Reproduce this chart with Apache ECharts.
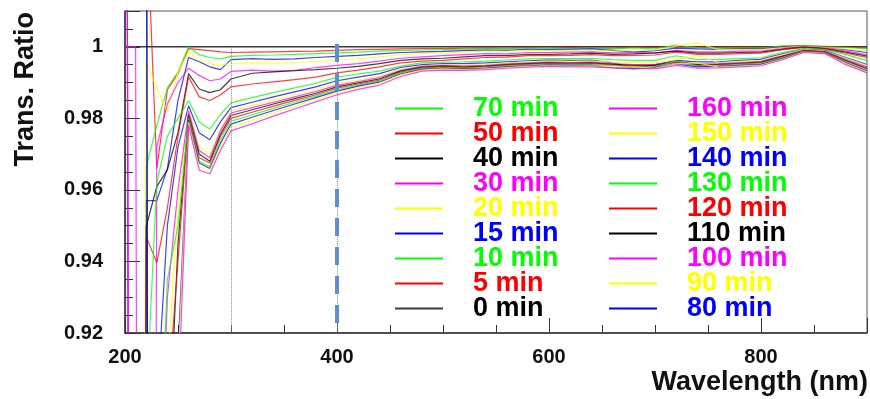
<!DOCTYPE html>
<html>
<head>
<meta charset="utf-8">
<script src="https://cdn.jsdelivr.net/npm/echarts@6/dist/echarts.min.js"></script>
<style>
  html, body { margin: 0; padding: 0; background: #fff; }
  #chart { width: 870px; height: 399px; }
</style>
</head>
<body>
<div id="chart"></div>
<script>
// wavelength grid (nm), shared by all runs
const wavelengths = [200, 210, 220, 230, 240, 250, 260, 270, 280, 290,
  300, 320, 340, 360, 380, 400, 420, 440, 460, 480,
  500, 520, 540, 560, 580, 600, 620, 640, 660, 680, 700, 720, 740, 760, 780, 800, 820, 840, 860, 880, 900];

// transmission ratio per run (relative to 0 min); values far off-scale below 250 nm
const t0 = [1, 1, 1, 1, 1, 1, 1, 1, 1, 1, 1, 1, 1, 1, 1, 1, 1, 1, 1, 1,
  1, 1, 1, 1, 1, 1, 1, 1, 1, 1, 1, 1, 1, 1, 1, 1, 1, 1, 1, 1, 1];
const t5 = [1.2, 1.2, 1.04, 0.966, 0.988, 0.9925, 0.9995, 0.9992, 0.9989, 0.9986,
  0.9984, 0.9985, 0.9986, 0.9987, 0.9988, 0.9990, 0.9992, 0.9993, 0.9994, 0.9995,
  0.9995, 0.9996, 0.9997, 0.9996, 0.9998, 0.9997, 0.9998, 0.9997, 0.9996, 0.9999, 0.9998, 1.0001, 0.9999, 0.9998, 0.9999, 0.9998, 1.0002, 1.0003, 1.0001, 0.9999, 0.9997];
const t10 = [0, 0, 0.9664, 0.978, 0.9885, 0.993, 1.0, 0.9978, 0.997, 0.9966,
  0.9973, 0.9976, 0.9977, 0.9979, 0.9981, 0.9983, 0.9985, 0.9988, 0.9990, 0.9991,
  0.9992, 0.9993, 0.9995, 0.9994, 0.9996, 0.9996, 0.9995, 0.9996, 0.9994, 0.9997, 0.9994, 1.0005, 0.9997, 0.9996, 0.9997, 0.9996, 1.0001, 1.0004, 1.0000, 0.9998, 0.9995];
const t15 = [0, 0, 0.957, 0.957, 0.966, 0.985, 0.997, 0.9958, 0.9944, 0.9936,
  0.9964, 0.9967, 0.9965, 0.9966, 0.9970, 0.9973, 0.9976, 0.9980, 0.9984, 0.9986,
  0.9987, 0.9989, 0.9991, 0.9990, 0.9993, 0.9992, 0.9993, 0.9994, 0.9990, 0.9985, 0.9989, 0.9996, 0.9994, 0.9993, 0.9995, 0.9994, 0.9999, 1.0002, 0.9998, 0.9992, 0.9984];
const t20 = [0, 0, 0.9955, 0.9885, 0.982, 0.993, 0.9985, 0.9962, 0.9952, 0.9948,
  0.9954, 0.9955, 0.9954, 0.9956, 0.9959, 0.9963, 0.9967, 0.9972, 0.9978, 0.9981,
  0.9983, 0.9985, 0.9987, 0.9987, 0.9990, 0.9989, 0.9990, 0.9991, 0.9988, 0.9990, 0.9991, 1.0002, 1.0010, 0.9992, 0.9993, 0.9992, 0.9998, 1.0002, 0.9998, 0.9994, 0.9988];
const t30 = [1.0, 1.0, 0, 0.972, 0.984, 0.990, 0.994, 0.992, 0.9905, 0.991,
  0.9931, 0.9935, 0.9932, 0.9934, 0.9942, 0.9948, 0.9953, 0.9960, 0.9968, 0.9972,
  0.9975, 0.9978, 0.9981, 0.9980, 0.9984, 0.9984, 0.9985, 0.9986, 0.9983, 0.9984, 0.9982, 0.9990, 0.9986, 0.9986, 0.9988, 0.9988, 0.9995, 1.0000, 0.9996, 0.9988, 0.9978];
const t40 = [0, 0, 0.9497, 0.961, 0.9656, 0.976, 0.9925, 0.9882, 0.9872, 0.988,
  0.9910, 0.9926, 0.9930, 0.9933, 0.9936, 0.9940, 0.9945, 0.9953, 0.9962, 0.9966,
  0.9968, 0.9972, 0.9975, 0.9975, 0.9979, 0.9979, 0.9980, 0.9982, 0.9979, 0.9980, 0.9983, 0.9988, 0.9982, 0.9982, 0.9984, 0.9985, 0.9993, 0.9999, 0.9995, 0.9985, 0.9974];
const t50 = [0, 0, 0.947, 0.9396, 0.955, 0.975, 0.9916, 0.986, 0.985, 0.9865,
  0.9888, 0.9896, 0.9902, 0.9908, 0.9915, 0.9927, 0.9935, 0.9944, 0.9955, 0.9960,
  0.9962, 0.9966, 0.9970, 0.9971, 0.9975, 0.9975, 0.9976, 0.9978, 0.9975, 0.9976, 0.9977, 0.9985, 0.9979, 0.9979, 0.9981, 0.9982, 0.9992, 0.9998, 0.9994, 0.9982, 0.9970];
const t70 = [0.5, 0.5, 0.90, 0.962, 0.975, 0.980, 0.985, 0.979, 0.977, 0.981,
  0.9843, 0.9858, 0.9872, 0.9885, 0.9898, 0.9915, 0.9924, 0.9932, 0.9946, 0.9955,
  0.9957, 0.9958, 0.9960, 0.9963, 0.9966, 0.9967, 0.9967, 0.9968, 0.9964, 0.9962, 0.9962, 0.9975, 0.9964, 0.9965, 0.9967, 0.9969, 0.9984, 0.9995, 0.9992, 0.9978, 0.9962];
const t80 = [1.3, 0, 0.5, 0.90, 0.95, 0.972, 0.9835, 0.976, 0.974, 0.979,
  0.9830, 0.9845, 0.9860, 0.9874, 0.9888, 0.9905, 0.9915, 0.9925, 0.9942, 0.9950,
  0.9953, 0.9953, 0.9955, 0.9958, 0.9961, 0.9963, 0.9962, 0.9963, 0.9955, 0.9940, 0.9950, 0.9962, 0.9958, 0.9958, 0.9962, 0.9965, 0.9980, 0.9993, 0.9990, 0.9970, 0.9950];
const t90 = [0.5, 0.5, 0.6, 0.80, 0.91, 0.955, 0.9825, 0.972, 0.970, 0.977,
  0.9822, 0.9836, 0.9851, 0.9866, 0.9880, 0.9897, 0.9907, 0.9918, 0.9937, 0.9947,
  0.9950, 0.9950, 0.9951, 0.9955, 0.9958, 0.9960, 0.9959, 0.9960, 0.9957, 0.9956, 0.9955, 0.9964, 0.9975, 0.9956, 0.9959, 0.9962, 0.9978, 0.9992, 0.9989, 0.9968, 0.9948];
const t100 = [1.3, 0, 0.5, 0.85, 0.93, 0.96, 0.982, 0.971, 0.969, 0.9765,
  0.9815, 0.9830, 0.9845, 0.9860, 0.9875, 0.9892, 0.9903, 0.9914, 0.9934, 0.9945,
  0.9948, 0.9947, 0.9948, 0.9952, 0.9955, 0.9957, 0.9956, 0.9957, 0.9953, 0.9950, 0.9950, 0.9960, 0.9952, 0.9953, 0.9956, 0.9959, 0.9975, 0.9990, 0.9987, 0.9965, 0.9944];
const t110 = [1.1, 1.1, 1.1, -0.5, 0.88, 0.945, 0.981, 0.970, 0.968, 0.9755,
  0.9808, 0.9824, 0.9840, 0.9855, 0.9870, 0.9888, 0.9899, 0.9910, 0.9932, 0.9943,
  0.9946, 0.9944, 0.9946, 0.9950, 0.9953, 0.9955, 0.9954, 0.9955, 0.9951, 0.9948, 0.9948, 0.9958, 0.9950, 0.9951, 0.9954, 0.9957, 0.9973, 0.9989, 0.9986, 0.9962, 0.9940];
const t120 = [0.5, 0.5, 0.6, 0.80, 0.90, 0.94, 0.9805, 0.969, 0.9675, 0.975,
  0.9800, 0.9817, 0.9834, 0.9850, 0.9866, 0.9884, 0.9896, 0.9907, 0.9929, 0.9941,
  0.9944, 0.9942, 0.9944, 0.9948, 0.9951, 0.9953, 0.9952, 0.9953, 0.9949, 0.9946, 0.9946, 0.9956, 0.9948, 0.9949, 0.9952, 0.9955, 0.9971, 0.9988, 0.9985, 0.9960, 0.9938];
const t130 = [0.5, 0.5, 0.6, 0.86, 0.935, 0.95, 0.980, 0.968, 0.9665, 0.974,
  0.9792, 0.9810, 0.9828, 0.9845, 0.9862, 0.9880, 0.9893, 0.9904, 0.9927, 0.9939,
  0.9942, 0.9940, 0.9942, 0.9946, 0.9949, 0.9951, 0.9950, 0.9951, 0.9947, 0.9944, 0.9944, 0.9960, 0.9946, 0.9947, 0.9950, 0.9953, 0.9969, 0.9987, 0.9984, 0.9958, 0.9935];
const t140 = [1.1, 1.1, 1.1, -0.5, 0.85, 0.915, 0.9795, 0.9675, 0.966, 0.973,
  0.9784, 0.9803, 0.9822, 0.9840, 0.9858, 0.9876, 0.9890, 0.9901, 0.9924, 0.9937,
  0.9940, 0.9938, 0.9940, 0.9944, 0.9947, 0.9949, 0.9948, 0.9948, 0.9942, 0.9938, 0.9942, 0.9952, 0.9944, 0.9945, 0.9948, 0.9951, 0.9967, 0.9986, 0.9983, 0.9955, 0.9932];
const t150 = [0.5, 0.5, 0.6, 0.70, 0.86, 0.91, 0.979, 0.9665, 0.9655, 0.972,
  0.9775, 0.9795, 0.9815, 0.9834, 0.9853, 0.9872, 0.9886, 0.9898, 0.9921, 0.9935,
  0.9938, 0.9936, 0.9938, 0.9942, 0.9945, 0.9947, 0.9946, 0.9947, 0.9944, 0.9943, 0.9940, 0.9952, 0.9955, 0.9943, 0.9946, 0.9949, 0.9965, 0.9985, 0.9982, 0.9953, 0.9930];
const t160 = [1.3, 0, 0.5, 0.75, 0.85, 0.90, 0.978, 0.9655, 0.9645, 0.971,
  0.9765, 0.9785, 0.9806, 0.9826, 0.9846, 0.9866, 0.9881, 0.9893, 0.9917, 0.9932,
  0.9935, 0.9934, 0.9936, 0.9940, 0.9943, 0.9945, 0.9944, 0.9944, 0.9941, 0.9940, 0.9938, 0.9948, 0.9940, 0.9941, 0.9944, 0.9947, 0.9963, 0.9984, 0.9981, 0.9950, 0.9927];

// legend columns, top to bottom
const legendLeft = ['70 min', '50 min', '40 min', '30 min', '20 min', '15 min', '10 min', '5 min', '0 min'];
const legendRight = ['160 min', '150 min', '140 min', '130 min', '120 min', '110 min', '100 min', '90 min', '80 min'];

// axis ticks
const xTicks = [200, 400, 600, 800];
const xTickLabels = ['200', '400', '600', '800'];
const yTicks = [0.92, 0.94, 0.96, 0.98, 1.0];
const yTickLabels = ['0.92', '0.94', '0.96', '0.98', '1'];

// reference lines (nm)
const dottedGuides = [300, 400];
const dashedGuide = 400;

const BLACK = '#000000', RED = '#ff0000', GREEN = '#00ff00', BLUE = '#0000ff', YELLOW = '#ffff00', MAGENTA = '#ff00ff';

const runs = [
  { name: '0 min', color: BLACK, values: t0 },
  { name: '5 min', color: RED, values: t5 },
  { name: '10 min', color: GREEN, values: t10 },
  { name: '15 min', color: BLUE, values: t15 },
  { name: '20 min', color: YELLOW, values: t20 },
  { name: '30 min', color: MAGENTA, values: t30 },
  { name: '40 min', color: BLACK, values: t40 },
  { name: '50 min', color: RED, values: t50 },
  { name: '70 min', color: GREEN, values: t70 },
  { name: '80 min', color: BLUE, values: t80 },
  { name: '90 min', color: YELLOW, values: t90 },
  { name: '100 min', color: MAGENTA, values: t100 },
  { name: '110 min', color: BLACK, values: t110 },
  { name: '120 min', color: RED, values: t120 },
  { name: '130 min', color: GREEN, values: t130 },
  { name: '140 min', color: BLUE, values: t140 },
  { name: '150 min', color: YELLOW, values: t150 },
  { name: '160 min', color: MAGENTA, values: t160 },
];

const FONT = '"Liberation Sans", Arial, Helvetica, sans-serif';
const AXIS_COLOR = '#333';

const colorOf = (name) => runs.find(r => r.name === name).color;

const legendBase = {
  orient: 'vertical',
  top: 95,
  padding: 0,
  itemWidth: 48,
  itemHeight: 2,
  itemGap: -2,
  icon: 'rect',
  selectedMode: false,
  textStyle: {
    fontFamily: FONT,
    fontSize: 27,
    fontWeight: 'bold',
    lineHeight: 25,
    padding: [0, 0, 0, 25],
  },
};

const series = runs.map((r, idx) => ({
  name: r.name,
  type: 'line',
  data: wavelengths.map((w, i) => [w, r.values[i]]),
  symbol: 'none',
  showSymbol: false,
  clip: true,
  z: 2,
  lineStyle: idx === 0
    ? { color: '#3a3a3a', width: 1.6 }
    : { color: r.color, width: 1.2, opacity: 0.75 },
  itemStyle: { color: idx === 0 ? '#3a3a3a' : r.color },
  emphasis: { disabled: true },
}));

// guide lines drawn on top of the curves
series.push({
  type: 'line',
  data: [],
  silent: true,
  z: 5,
  markLine: {
    silent: true,
    symbol: ['none', 'none'],
    label: { show: false },
    animation: false,
    data: [
      ...dottedGuides.map(w => [
        { coord: [w, 1.0], lineStyle: { color: '#888', width: 1, type: 'dotted' } },
        { coord: [w, 0.92] },
      ]),
      [
        { coord: [dashedGuide, 1.0008], lineStyle: { color: '#5f90c8', width: 4, type: [18, 11] } },
        { coord: [dashedGuide, 0.92] },
      ],
    ],
  },
});

const chart = echarts.init(document.getElementById('chart'), null, { renderer: 'canvas' });

chart.setOption({
  animation: false,
  backgroundColor: '#fff',
  grid: {
    left: 125, right: 3, top: 11, bottom: 66,
    show: true, borderColor: '#555', borderWidth: 1, backgroundColor: 'transparent',
  },
  xAxis: [
    {
      type: 'value', min: 200, max: 900, interval: 200, position: 'bottom',
      axisLine: { show: true, lineStyle: { color: AXIS_COLOR, width: 1.5 } },
      axisTick: { show: true, inside: true, length: 15, lineStyle: { color: AXIS_COLOR, width: 1 } },
      axisLabel: {
        show: true, margin: 14, color: '#111', fontFamily: FONT, fontSize: 20, fontWeight: 'bold',
        formatter: (v) => { const i = xTicks.findIndex(t => Math.abs(t - v) < 1e-6); return i >= 0 ? xTickLabels[i] : ''; },
      },
      splitLine: { show: false },
    },
    {
      type: 'value', min: 200, max: 900, interval: 50, position: 'bottom',
      axisLine: { show: false },
      axisTick: { show: true, inside: true, length: 8, lineStyle: { color: AXIS_COLOR, width: 1 } },
      axisLabel: { show: false },
      splitLine: { show: false },
    },
  ],
  yAxis: [
    {
      type: 'value', min: 0.92, max: 1.01, interval: 0.02, position: 'left',
      axisLine: { show: true, lineStyle: { color: AXIS_COLOR, width: 1.5 } },
      axisTick: { show: true, inside: true, length: 15, lineStyle: { color: AXIS_COLOR, width: 1 } },
      axisLabel: {
        show: true, margin: 22, color: '#111', fontFamily: FONT, fontSize: 20, fontWeight: 'bold',
        padding: [6, 0, 0, 0],
        formatter: (v) => { const i = yTicks.findIndex(t => Math.abs(t - v) < 1e-6); return i >= 0 ? yTickLabels[i] : ''; },
      },
      splitLine: { show: false },
    },
    {
      type: 'value', min: 0.92, max: 1.01, interval: 0.005, position: 'left',
      axisLine: { show: false },
      axisTick: { show: true, inside: true, length: 8, lineStyle: { color: AXIS_COLOR, width: 1 } },
      axisLabel: { show: false },
      splitLine: { show: false },
    },
  ],
  legend: [
    { ...legendBase, left: 395, data: legendLeft.map(n => ({ name: n, textStyle: { color: colorOf(n) } })) },
    { ...legendBase, left: 609, data: legendRight.map(n => ({ name: n, textStyle: { color: colorOf(n) } })) },
  ],
  graphic: [
    {
      type: 'text', x: 26, y: 12, rotation: Math.PI / 2, silent: true,
      style: { text: 'Trans. Ratio', font: 'bold 27px ' + FONT, fill: '#111', textAlign: 'right', textVerticalAlign: 'middle' },
    },
    {
      type: 'text', x: 868, y: 383, silent: true,
      style: { text: 'Wavelength (nm)', font: 'bold 27px ' + FONT, fill: '#111', textAlign: 'right', textVerticalAlign: 'middle' },
    },
  ],
  series: series,
});
</script>
</body>
</html>
